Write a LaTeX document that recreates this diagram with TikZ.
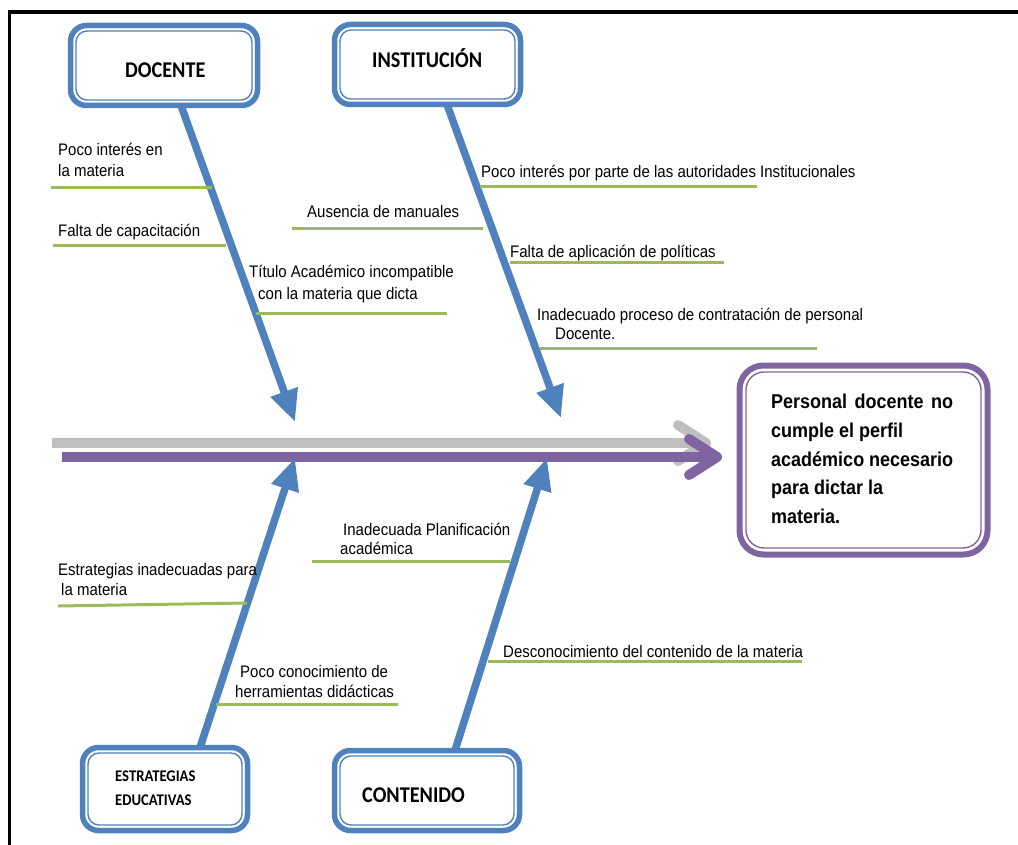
\documentclass[tikz,border=0pt]{standalone}
\usepackage{fontspec}
\setmainfont{Liberation Sans}
\newfontfamily\lblfont[FakeStretch=0.9]{Liberation Sans}
\newfontfamily\catfont[FakeStretch=0.9]{Carlito}
\usetikzlibrary{arrows.meta,calc}
\pgfdeclarelayer{background}
\pgfsetlayers{background,main}
\definecolor{boxblue}{RGB}{79,129,189}
\definecolor{boxpurple}{RGB}{128,100,162}
\definecolor{bonegreen}{RGB}{155,187,89}
\definecolor{spinegray}{RGB}{191,191,191}
\begin{document}
\begin{tikzpicture}[x=1pt,y=-1pt,
  catbox/.style={draw=boxblue, line width=5.5pt, rounded corners=16pt, fill=white,
    inner sep=0pt, outer sep=0pt,
    path picture={\draw[boxblue, line width=1.4pt, rounded corners=11pt]
      ([shift={(5.5pt,-5.5pt)}]path picture bounding box.north west) rectangle
      ([shift={(-5.5pt,5.5pt)}]path picture bounding box.south east);}},
  effbox/.style={draw=boxpurple, line width=6pt, rounded corners=24pt, fill=white,
    inner sep=0pt, outer sep=0pt, minimum width=248pt, minimum height=189pt,
    path picture={\draw[boxpurple, line width=1.4pt, rounded corners=18pt]
      ([shift={(6.5pt,-6.5pt)}]path picture bounding box.north west) rectangle
      ([shift={(-6.5pt,6.5pt)}]path picture bounding box.south east);}},
  lbl/.style={font=\lblfont\fontsize{16.7}{20}\selectfont, anchor=base west, inner sep=0pt},
  efftxt/.style={font=\lblfont\bfseries\fontsize{20}{29}\selectfont, anchor=base west, inner sep=0pt},
  cattxt/.style={font=\catfont\bfseries\fontsize{22.5}{26}\selectfont, anchor=base west, inner sep=0pt},
  smallcat/.style={font=\catfont\bfseries\fontsize{16.3}{20}\selectfont, anchor=base west, inner sep=0pt},
  bone/.style={draw=bonegreen, line width=3pt},
  catarrow/.style={draw=boxblue, line width=7.5pt, -{Triangle[length=32pt,width=27pt]}},
  purplespine/.style={draw=boxpurple, line width=10pt},
  grayspine/.style={draw=spinegray, line width=10pt},
  chev/.style={line width=10pt, line cap=round, line join=round}
]
\useasboundingbox (0,0) rectangle (1018,845);
% frame
\draw[line width=3.5pt] (1018,12) -- (9.5,12) -- (9.5,845);

% coordinates
\coordinate (tipD) at (295,422);
\coordinate (tipI) at (561,418);
\coordinate (tipE) at (295,458);
\coordinate (tipC) at (547,458);
\coordinate (gL) at (52,443);
\coordinate (gR) at (706,443);
\coordinate (pL) at (62,457);
\coordinate (pR) at (717,457);

% category boxes
\node[catbox, minimum width=187pt, minimum height=80pt] (doc) at (164,65.5) {};
\node[catbox, minimum width=186pt, minimum height=80pt] (inst) at (427.5,64.5) {};
\node[catbox, minimum width=165pt, minimum height=83pt] (estr) at (165,789) {};
\node[catbox, minimum width=185pt, minimum height=80pt] (cont) at (427,790.5) {};

\begin{pgfonlayer}{background}
% spine
\draw[grayspine] (gL) -- (gR);
\draw[grayspine, chev] ($(gR)+(-28,-18)$) -- (gR) -- ($(gR)+(-28,18)$);
\draw[purplespine] (pL) -- (pR);
\draw[purplespine, chev] ($(pR)+(-28,-18)$) -- (pR) -- ($(pR)+(-28,18)$);
% arrows
\draw[catarrow] ([xshift=17pt]doc.south) -- (tipD);
\draw[catarrow] ([xshift=19.5pt]inst.south) -- (tipI);
\draw[catarrow] ([xshift=35pt]estr.north) -- (tipE);
\draw[catarrow] ([xshift=28pt]cont.north) -- (tipC);
\end{pgfonlayer}

\node[cattxt] (tdoc) at (125,78) {DOCENTE};
\node[cattxt] (tinst) at (372,68) {INSTITUCIÓN};
\node[cattxt] (tcont) at (362,802) {CONTENIDO};
\node[smallcat] (testr1) at (115,781) {ESTRATEGIAS};
\node[smallcat] (testr2) at (115,805) {EDUCATIVAS};

% effect box
\node[effbox] (eff) at (863.5,460) {};
\node[efftxt] (e1) at (771,408) {\makebox[182pt][s]{Personal docente no}};
\node[efftxt] (e2) at (771,437) {cumple el perfil};
\node[efftxt] (e3) at (771,466) {\makebox[182pt][s]{académico necesario}};
\node[efftxt] (e4) at (771,494) {para dictar la};
\node[efftxt] (e5) at (771,523) {materia.};

% bones
\draw[bone] (51,188) -- (212,188);
\draw[bone] (53,246) -- (226,246);
\draw[bone] (256,313) -- (447,313);
\draw[bone] (292,229) -- (483,229);
\draw[bone] (480,187) -- (757,187);
\draw[bone] (510,263) -- (724,263);
\draw[bone] (540,348) -- (817,348);
\draw[bone] (312,561) -- (510,561);
\draw[bone] (58,606) -- (247,603);
\draw[bone] (216,704) -- (398,704);
\draw[bone] (488,661) -- (802,661);

% labels
\node[lbl] (l1a) at (58,156) {Poco interés en};
\node[lbl] (l1b) at (58,177) {la materia};
\node[lbl] (l2) at (58,237) {Falta de capacitación};
\node[lbl] (l3a) at (249,278) {Título Académico incompatible};
\node[lbl] (l3b) at (258,299) {con la materia que dicta};
\node[lbl] (l4) at (307,218) {Ausencia de manuales};
\node[lbl] (l5) at (481,178) {Poco interés por parte de las autoridades Institucionales};
\node[lbl] (l6) at (510,258) {Falta de aplicación de políticas};
\node[lbl] (l7a) at (537,320) {Inadecuado proceso de contratación de personal};
\node[lbl] (l7b) at (555,339) {Docente.};
\node[lbl] (l8a) at (343,535) {Inadecuada Planificación};
\node[lbl] (l8b) at (340,554) {académica};
\node[lbl] (l9a) at (58,575) {Estrategias inadecuadas para};
\node[lbl] (l9b) at (61,595) {la materia};
\node[lbl] (l10a) at (240,677) {Poco conocimiento de};
\node[lbl] (l10b) at (235,697) {herramientas didácticas};
\node[lbl] (l11) at (503,657) {Desconocimiento del contenido de la materia};
\end{tikzpicture}
\end{document}
